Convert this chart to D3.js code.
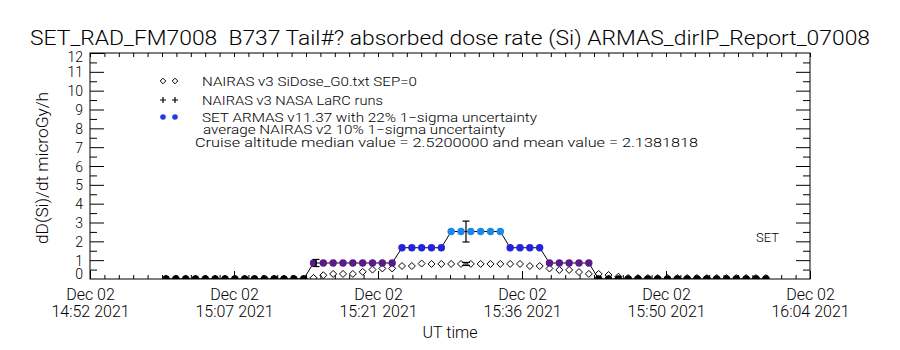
<!DOCTYPE html>
<html><head><meta charset="utf-8">
<script src="https://cdn.jsdelivr.net/npm/d3@7"></script>
<style>
body{margin:0;background:#fff}
svg{display:block}
text{font-family:Roboto,"Liberation Sans",Arial,sans-serif;font-weight:300;fill:#000;white-space:pre}
</style>
</head><body>
<svg id="chart" width="900" height="350"></svg>
<script>
// ---------------- data ----------------
const titleText = "SET_RAD_FM7008  B737 Tail#? absorbed dose rate (Si) ARMAS_dirIP_Report_07008";
const axisStart = "14:52:24", axisEnd = "16:04:24";
const xTickLabels = ["14:52", "15:07", "15:21", "15:36", "15:50", "16:04"];
const xDateLabel = "Dec 02", xYearLabel = "2021";
const yTickValues = [0,1,2,3,4,5,6,7,8,9,10,11,12];

const times = [
 "15:00:00","15:00:59","15:01:58","15:02:57","15:03:56","15:04:55","15:05:54","15:06:53",
 "15:07:52","15:08:51","15:09:50","15:10:49","15:11:48","15:12:47","15:13:46","15:14:45",
 "15:15:44","15:16:43","15:17:42","15:18:41","15:19:40","15:20:39","15:21:38","15:22:37",
 "15:23:36","15:24:35","15:25:34","15:26:33","15:27:32","15:28:31","15:29:30","15:30:29",
 "15:31:28","15:32:27","15:33:26","15:34:25","15:35:24","15:36:23","15:37:22","15:38:21",
 "15:39:20","15:40:19","15:41:18","15:42:17","15:43:16","15:44:15","15:45:14","15:46:13",
 "15:47:12","15:48:11","15:49:10","15:50:09","15:51:08","15:52:07","15:53:06","15:54:05",
 "15:55:04","15:56:03","15:57:02","15:58:01","15:59:00","15:59:59"];
const armasDose = [
 0,0,0,0,0,0,0,0, 0,0,0,0,0,0,0,0.85,
 0.85,0.85,0.85,0.85,0.85,0.85,0.85,0.85,
 1.66,1.66,1.66,1.66,1.66,2.52,2.52,2.52,
 2.52,2.52,2.52,1.66,1.66,1.66,1.66,0.85,
 0.85,0.85,0.85,0.85,0,0,0,0,
 0,0,0,0,0,0,0,0, 0,0,0,0,0,0];
const nairasDose = [
 0.02,0.02,0.02,0.02,0.02,0.02,0.02,0.02, 0.02,0.02,0.02,0.02,0.02,0.02,0.02,0.06,
 0.2,0.27,0.27,0.27,0.38,0.5,0.56,0.56,
 0.69,0.69,0.82,0.8,0.8,0.8,0.8,0.8,
 0.8,0.8,0.8,0.8,0.8,0.69,0.69,0.56,
 0.48,0.48,0.37,0.27,0.27,0.21,0.12,0.05,
 0.05,0.05,0.05,0.05,0.05,0.05,0.05,0.05, 0.05,0.05,0.05,0.05,0.05,0.05];
const armasErrTimes = ["15:15:00", "15:30:00"];
const armasErrValues = [0.85, 2.52];
const armasErrFraction = 0.22;
const nairasErrTimes = ["15:30:00"];
const nairasErrValues = [0.8];
const nairasErrFraction = 0.10;
const legendLabels = [
 "NAIRAS v3 SiDose_G0.txt SEP=0",
 "NAIRAS v3 NASA LaRC runs",
 "SET ARMAS v11.37 with 22% 1\u2212sigma uncertainty"];
const noteLines = [
 "average NAIRAS v2 10% 1\u2212sigma uncertainty",
 "Cruise altitude median value = 2.5200000 and mean value = 2.1381818"];

// ---------------- layout ----------------
const svg = d3.select("#chart");
const L = 90, R = 810, T = 53, B = 279;
const parse = d3.timeParse("%H:%M:%S");
const x = d3.scaleTime().domain([parse(axisStart), parse(axisEnd)]).range([L, R]);
const y = d3.scaleLinear().domain([0, 12]).range([B, T]);
const levelColor = d3.scaleThreshold().domain([0.3, 1.2, 2.0])
  .range(["#000000", "#5a1a8a", "#2323dc", "#1e88e8"]);

// title
svg.append("text").attr("x", 450).attr("y", 45).attr("text-anchor", "middle")
  .attr("font-size", 21).attr("textLength", 840).attr("lengthAdjust", "spacingAndGlyphs")
  .text(titleText);

// clip
svg.append("clipPath").attr("id", "plotclip").append("rect")
  .attr("x", L).attr("y", T).attr("width", R - L).attr("height", B - T);

// axes frame
svg.append("rect").attr("x", L).attr("y", T).attr("width", R - L).attr("height", B - T)
  .attr("fill", "none").attr("stroke", "#000").attr("stroke-width", 1);

// y ticks (major integers, minor halves) on left & right
const yMinor = d3.range(0.5, 12, 1);
const yAxisL = d3.axisLeft(y).tickValues(yTickValues).tickSize(-14).tickPadding(7).tickFormat(d3.format("d"));
const gL = svg.append("g").attr("transform", `translate(${L},0)`).call(yAxisL);
gL.select(".domain").remove();
gL.selectAll("text").attr("font-size", 14).attr("font-family", null)
  .attr("dy", d => d === 12 ? "0.6em" : d === 0 ? "-0.05em" : "0.36em");
gL.selectAll(".tick").filter(d => d === 0).select("line").remove();
svg.append("g").attr("transform", `translate(${L},0)`)
  .call(d3.axisLeft(y).tickValues(yMinor).tickSize(-7).tickFormat(""))
  .select(".domain").remove();
const gR = svg.append("g").attr("transform", `translate(${R},0)`)
  .call(d3.axisRight(y).tickValues(yTickValues.filter(d => d > 0 && d < 12)).tickSize(-14).tickFormat(""));
gR.select(".domain").remove();
svg.append("g").attr("transform", `translate(${R},0)`)
  .call(d3.axisRight(y).tickValues(yMinor).tickSize(-7).tickFormat(""))
  .select(".domain").remove();

// x ticks
const t0 = x.domain()[0].getTime(), t1 = x.domain()[1].getTime();
const xMajor = d3.range(0, 6).map(i => new Date(t0 + (t1 - t0) * i / 5));
const xMinorT = d3.range(0, 51).map(i => new Date(t0 + (t1 - t0) * i / 50));
function xTicks(pos, vals, size) {
  const ax = pos === "bottom" ? d3.axisBottom(x) : d3.axisTop(x);
  const g = svg.append("g").attr("transform", `translate(0,${pos === "bottom" ? B : T})`)
    .call(ax.tickValues(vals).tickSize(-size).tickFormat(""));
  g.select(".domain").remove();
  return g;
}
xTicks("bottom", xMinorT, 4);
xTicks("bottom", xMajor, 8);
xTicks("top", xMinorT, 4);

// x labels (two lines)
const gx = svg.append("g").attr("transform", `translate(0,${B})`)
  .call(d3.axisBottom(x).tickValues(xMajor).tickSize(0).tickPadding(10)
    .tickFormat(() => xDateLabel));
gx.select(".domain").remove();
gx.selectAll("text").attr("font-size", 16).attr("font-family", null).each(function(d, i) {
  const t = d3.select(this);
  t.text(null);
  t.append("tspan").attr("x", 0).attr("dy", "0.71em").text(xDateLabel);
  t.append("tspan").attr("x", 0).attr("dy", "1.05em").text(xTickLabels[i] + " " + xYearLabel);
});

svg.append("text").attr("x", 450).attr("y", 338).attr("text-anchor", "middle")
  .attr("font-size", 16).text("UT time");

svg.append("text").attr("transform", "translate(48,168) rotate(-90)")
  .attr("text-anchor", "middle").attr("font-size", 16)
  .attr("textLength", 152).attr("lengthAdjust", "spacingAndGlyphs")
  .text("dD(Si)/dt microGy/h");

svg.append("text").attr("x", 756).attr("y", 242).attr("font-size", 13).text("SET");

// ---------------- marks ----------------
const plot = svg.append("g").attr("clip-path", "url(#plotclip)");
const pts = times.map((t, i) => ({t: parse(t), a: armasDose[i], n: nairasDose[i]}));
const diamond = "M0,-3.5L3.5,0L0,3.5L-3.5,0Z";

plot.selectAll(".nd").data(pts).join("path").attr("class", "nd")
  .attr("d", diamond).attr("transform", d => `translate(${x(d.t)},${y(d.n)})`)
  .attr("fill", "none").attr("stroke", "#000").attr("stroke-width", 1);

plot.append("path").datum(pts)
  .attr("d", d3.line().x(d => x(d.t)).y(d => y(d.a)))
  .attr("fill", "none").attr("stroke", "#000").attr("stroke-width", 1);

plot.selectAll(".ac").data(pts).join("circle").attr("class", "ac")
  .attr("cx", d => x(d.t)).attr("cy", d => y(d.a)).attr("r", 3.7)
  .attr("fill", d => levelColor(d.a));

function errBar(tArr, vArr, frac, w) {
  tArr.forEach((t, i) => {
    const cx = x(parse(t)), v = vArr[i];
    const lo = y(v * (1 - frac)), hi = y(v * (1 + frac));
    const g = plot.append("g").attr("stroke", "#000").attr("stroke-width", 1.2);
    g.append("line").attr("x1", cx).attr("x2", cx).attr("y1", lo).attr("y2", hi);
    g.append("line").attr("x1", cx - w).attr("x2", cx + w).attr("y1", lo).attr("y2", lo);
    g.append("line").attr("x1", cx - w).attr("x2", cx + w).attr("y1", hi).attr("y2", hi);
  });
}
errBar(armasErrTimes, armasErrValues, armasErrFraction, 3.5);
errBar(nairasErrTimes, nairasErrValues, nairasErrFraction, 4);

// ---------------- legend ----------------
const lg = svg.append("g");
const legX = [163, 175], legY = [81, 100, 117], legTextX = 202;
legX.forEach(cx => {
  lg.append("path").attr("d", "M0,-2.8L2.8,0L0,2.8L-2.8,0Z").attr("transform", `translate(${cx},${legY[0]})`)
    .attr("fill", "none").attr("stroke", "#000");
  lg.append("path").attr("d", "M-3,0H3M0,-3V3").attr("transform", `translate(${cx},${legY[1]})`)
    .attr("stroke", "#000").attr("stroke-width", 1.2);
  lg.append("circle").attr("cx", cx).attr("cy", legY[2]).attr("r", 2.8).attr("fill", "#1f3fe0");
});
const legW = [215, 181, 335];
legendLabels.forEach((s, i) => {
  lg.append("text").attr("x", legTextX).attr("y", legY[i] + 4.5).attr("font-size", 13)
    .attr("textLength", legW[i]).attr("lengthAdjust", "spacingAndGlyphs").text(s);
});
const noteX = [203, 195], noteY = [133.5, 146.5], noteW = [302, 503];
noteLines.forEach((s, i) => {
  lg.append("text").attr("x", noteX[i]).attr("y", noteY[i]).attr("font-size", 12.5)
    .attr("textLength", noteW[i]).attr("lengthAdjust", "spacingAndGlyphs").text(s);
});
</script>
</body></html>
